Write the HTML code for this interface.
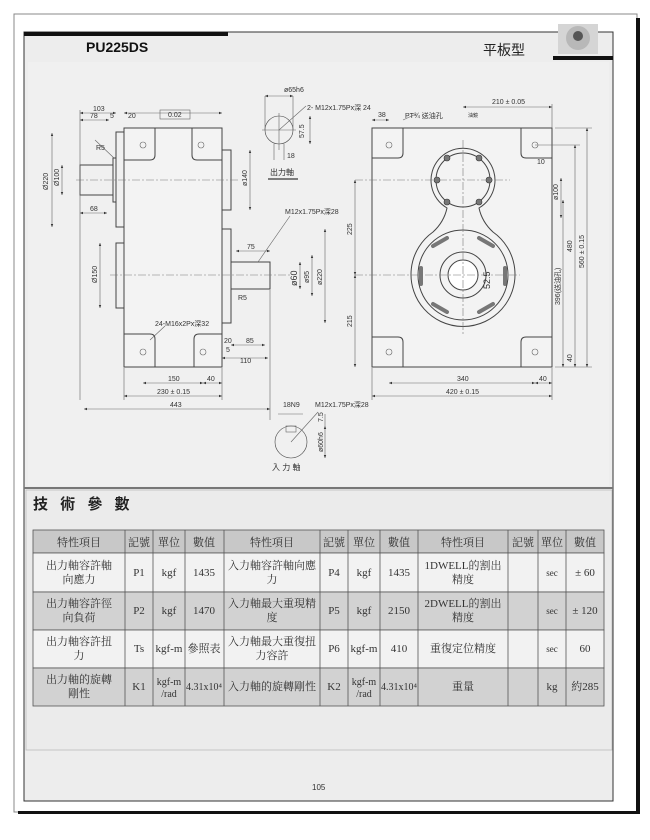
<!DOCTYPE html>
<html><head><meta charset="utf-8"><style>
html,body{margin:0;padding:0;background:#fff;}
svg{display:block;font-family:"Liberation Sans","Noto Sans CJK TC",sans-serif;}
.l{stroke:#444;stroke-width:1;fill:none}
.t{stroke:#666;stroke-width:.6;fill:none}
.c{stroke:#777;stroke-width:.6;fill:none;stroke-dasharray:8 2 2 2}
.s{font-size:7px;fill:#333}
.tb{font-family:"Liberation Serif","Noto Serif CJK SC",serif;font-size:11px;fill:#333;text-anchor:middle}
</style></head><body>
<svg width="650" height="840" viewBox="0 0 650 840" xmlns="http://www.w3.org/2000/svg">
<defs><marker id="a" markerWidth="6" markerHeight="6" refX="5" refY="3" orient="auto-start-reverse"><path d="M0,1 L5,3 L0,5z" fill="#333"/></marker></defs>
<!-- outer frame -->
<rect x="14" y="14" width="623" height="798" fill="#fff" stroke="#888" stroke-width="1"/>
<rect x="18" y="811" width="622" height="3" fill="#111"/>
<rect x="636" y="18" width="4" height="796" fill="#111"/>
<rect x="24" y="32" width="589" height="769" fill="#ededed" stroke="#333" stroke-width="1"/>
<rect x="24" y="32" width="204" height="4" fill="#111"/>
<rect x="553" y="56" width="60" height="4" fill="#111"/>
<rect x="558" y="24" width="40" height="30" fill="#d5d5d5"/>
<circle cx="578" cy="38" r="12" fill="#b8b8b8"/><circle cx="578" cy="36" r="5" fill="#555"/>
<text x="86" y="52" font-size="14" font-weight="bold" fill="#111">PU225DS</text>
<text x="483" y="55" font-size="14" fill="#222">平板型</text>
<rect x="28" y="62" width="581" height="424" fill="#f0f0f0"/>

<!-- LEFT VIEW -->
<g class="l">
<rect x="124" y="128" width="98" height="239" fill="#f3f3f3"/>
<path d="M124,160 H150 Q155,160 155,155 V128"/><path d="M222,160 H197 Q192,160 192,155 V128"/>
<path d="M124,334 H150 Q155,334 155,339 V367"/><path d="M222,334 H199 Q194,334 194,339 V367"/>
<rect x="116" y="132" width="8" height="95"/>
<rect x="113" y="158" width="3" height="44"/>
<rect x="80" y="165" width="33" height="30"/>
<rect x="116" y="243" width="8" height="65"/>
<rect x="222" y="150" width="9" height="60"/>
<rect x="222" y="229" width="9" height="94"/>
<rect x="231" y="262" width="39" height="27"/>
</g>
<g class="t"><circle cx="143" cy="145" r="3"/><circle cx="201" cy="145" r="3"/><circle cx="143" cy="352" r="3"/><circle cx="203" cy="352" r="3"/></g>
<line class="c" x1="76" y1="180" x2="240" y2="180"/><line class="c" x1="110" y1="275" x2="290" y2="275"/>
<g class="t" marker-start="url(#a)" marker-end="url(#a)">
<line x1="80" y1="113" x2="116" y2="113"/><line x1="80" y1="120" x2="109" y2="120"/><line x1="124" y1="113" x2="222" y2="113"/>
<line x1="52" y1="133" x2="52" y2="227"/><line x1="62" y1="165" x2="62" y2="195"/>
<line x1="80" y1="213" x2="107" y2="213"/><line x1="250" y1="150" x2="250" y2="210"/>
<line x1="100" y1="243" x2="100" y2="308"/><line x1="236" y1="251" x2="270" y2="251"/>
<line x1="300" y1="262" x2="300" y2="289"/><line x1="312" y1="255" x2="312" y2="296"/><line x1="325" y1="229" x2="325" y2="323"/>
<line x1="231" y1="345" x2="265" y2="345"/><line x1="222" y1="358" x2="268" y2="358"/>
<line x1="143" y1="383" x2="203" y2="383"/><line x1="203" y1="383" x2="222" y2="383"/>
<line x1="124" y1="396" x2="222" y2="396"/><line x1="84" y1="409" x2="270" y2="409"/>
</g>
<g class="t"><line x1="80" y1="110" x2="80" y2="400"/><line x1="270" y1="290" x2="270" y2="420"/><line x1="222" y1="368" x2="222" y2="400"/><line x1="124" y1="368" x2="124" y2="400"/><line x1="258" y1="262" x2="290" y2="216"/><line x1="150" y1="340" x2="165" y2="326"/><line x1="95" y1="140" x2="114" y2="158"/></g>
<rect x="160" y="110" width="30" height="9" fill="none" stroke="#666" stroke-width=".6"/>
<g class="s">
<text x="93" y="111">103</text><text x="90" y="118">78</text><text x="110" y="118">5</text><text x="128" y="118">20</text><text x="168" y="117">0.02</text>
<text x="48" y="190" transform="rotate(-90 48 190)">Ø220</text><text x="59" y="186" transform="rotate(-90 59 186)">Ø100</text>
<text x="90" y="211">68</text><text x="96" y="150">R5</text><text x="247" y="186" transform="rotate(-90 247 186)">ø140</text>
<text x="97" y="283" transform="rotate(-90 97 283)">Ø150</text><text x="247" y="249">75</text>
<text x="285" y="214">M12x1.75Px深28</text>
<text x="297" y="286" transform="rotate(-90 297 286)" font-size="9">ø60</text><text x="309" y="283" transform="rotate(-90 309 283)">ø95</text><text x="322" y="285" transform="rotate(-90 322 285)">ø220</text>
<text x="238" y="300">R5</text><text x="155" y="326">24-M16x2Px深32</text>
<text x="224" y="343">20</text><text x="246" y="343">85</text><text x="226" y="352">5</text><text x="240" y="363">110</text>
<text x="168" y="381">150</text><text x="207" y="381">40</text><text x="157" y="394">230 ± 0.15</text><text x="170" y="407">443</text>
</g>
<!-- output shaft detail -->
<g class="t">
<circle cx="279" cy="130" r="14" stroke="#444"/><line x1="262" y1="130" x2="296" y2="130"/><line x1="279" y1="113" x2="279" y2="150"/>
<line x1="265" y1="96" x2="293" y2="96" marker-start="url(#a)" marker-end="url(#a)"/><line x1="265" y1="96" x2="265" y2="130"/><line x1="293" y1="96" x2="293" y2="130"/>
<line x1="279" y1="130" x2="306" y2="106"/><line x1="310" y1="116" x2="310" y2="144" marker-start="url(#a)" marker-end="url(#a)"/>
<line x1="274" y1="144" x2="274" y2="160"/><line x1="284" y1="144" x2="284" y2="160"/>
</g>
<text class="s" x="284" y="92">ø65h6</text><text class="s" x="307" y="110">2- M12x1.75Px深 24</text>
<text class="s" x="304" y="138" transform="rotate(-90 304 138)">57.5</text><text class="s" x="287" y="158">18</text>
<text x="270" y="175" font-size="8" fill="#333">出力軸</text><line x1="268" y1="179" x2="298" y2="179" stroke="#555" stroke-width="1.5"/>
<!-- input shaft detail -->
<g class="t">
<circle cx="291" cy="442" r="16" stroke="#444"/><rect x="286" y="426" width="10" height="6"/><line x1="291" y1="442" x2="318" y2="412"/>
<line x1="278" y1="414" x2="303" y2="414"/><line x1="325" y1="426" x2="325" y2="458" marker-start="url(#a)" marker-end="url(#a)"/><line x1="325" y1="414" x2="325" y2="426"/>
</g>
<text class="s" x="283" y="407">18N9</text><text class="s" x="315" y="407">M12x1.75Px深28</text>
<text class="s" x="323" y="422" transform="rotate(-90 323 422)">7.5</text><text class="s" x="323" y="452" transform="rotate(-90 323 452)">ø60h6</text>
<text x="272" y="470" font-size="8" fill="#333">入 力 軸</text>

<!-- RIGHT VIEW -->
<g class="l">
<rect x="372" y="128" width="180" height="239" fill="#f3f3f3"/>
<path d="M372,158 H398 Q403,158 403,153 V128"/><path d="M552,158 H526 Q521,158 521,153 V128"/>
<path d="M372,337 H398 Q403,337 403,342 V367"/><path d="M552,337 H526 Q521,337 521,342 V367"/>
<path d="M447,208 A32,32 0 1 1 479,208 Q482,222 493,232 A52,52 0 1 1 433,232 Q444,222 447,208 Z"/>
<circle cx="463" cy="275" r="45"/><circle cx="463" cy="275" r="23"/><circle cx="463" cy="275" r="15" fill="#fff"/>
<circle cx="463" cy="180" r="27"/>
</g>
<g fill="#777" stroke="#333" stroke-width=".6">
<circle cx="447" cy="158" r="3"/><circle cx="479" cy="158" r="3"/><circle cx="437" cy="180" r="3"/><circle cx="489" cy="180" r="3"/><circle cx="447" cy="202" r="3"/><circle cx="479" cy="202" r="3"/>
</g>
<g fill="none" stroke="#444" stroke-width="4" stroke-linecap="round" opacity=".7">
<path d="M433,246 L447,238"/><path d="M479,238 L493,246"/><path d="M421,268 L421,284"/><path d="M505,268 L505,284"/><path d="M433,304 L447,312"/><path d="M479,312 L493,304"/>
</g>
<g class="t"><circle cx="389" cy="145" r="3"/><circle cx="535" cy="145" r="3"/><circle cx="389" cy="352" r="3"/><circle cx="535" cy="352" r="3"/></g>
<line class="c" x1="355" y1="180" x2="510" y2="180"/><line class="c" x1="355" y1="275" x2="520" y2="275"/><line class="c" x1="463" y1="140" x2="463" y2="335"/>
<g class="t" marker-start="url(#a)" marker-end="url(#a)">
<line x1="463" y1="107" x2="552" y2="107"/><line x1="372" y1="120" x2="389" y2="120"/>
<line x1="355" y1="180" x2="355" y2="275"/><line x1="355" y1="275" x2="355" y2="367"/>
<line x1="563" y1="200" x2="563" y2="367"/><line x1="575" y1="145" x2="575" y2="367"/><line x1="587" y1="128" x2="587" y2="367"/>
<line x1="561" y1="178" x2="561" y2="218"/>
<line x1="389" y1="383" x2="535" y2="383"/><line x1="535" y1="383" x2="552" y2="383"/><line x1="372" y1="396" x2="552" y2="396"/>
</g>
<g class="t"><line x1="372" y1="368" x2="372" y2="400"/><line x1="552" y1="368" x2="552" y2="400"/><line x1="552" y1="104" x2="552" y2="128"/><line x1="555" y1="128" x2="592" y2="128"/><line x1="535" y1="145" x2="580" y2="145"/><line x1="555" y1="367" x2="592" y2="367"/><line x1="403" y1="120" x2="416" y2="114"/></g>
<g class="s">
<text x="492" y="104">210 ± 0.05</text><text x="378" y="117">38</text><text x="405" y="118">PT¾ 送油孔</text><text x="468" y="117" font-size="5">油鏡</text>
<text x="352" y="235" transform="rotate(-90 352 235)">225</text><text x="352" y="327" transform="rotate(-90 352 327)">215</text>
<text x="537" y="164">10</text><text x="558" y="200" transform="rotate(-90 558 200)">ø100</text>
<text x="572" y="252" transform="rotate(-90 572 252)">480</text><text x="584" y="268" transform="rotate(-90 584 268)">560 ± 0.15</text>
<text x="560" y="305" transform="rotate(-90 560 305)">396(送油孔)</text><text x="572" y="362" transform="rotate(-90 572 362)">40</text>
<text x="490" y="289" transform="rotate(-90 490 289)" font-size="9">52.5</text>
<text x="457" y="381">340</text><text x="539" y="381">40</text><text x="446" y="394">420 ± 0.15</text>
</g>

<!-- TABLE SECTION -->
<rect x="24" y="487" width="589" height="2" fill="#777"/>
<rect x="26" y="490" width="586" height="260" fill="#ebebeb" stroke="#bbb" stroke-width=".8"/>
<text x="33" y="509" font-size="15" font-weight="bold" fill="#222" letter-spacing="4">技 術 參 數</text>
<g stroke="#555" stroke-width=".8">
<rect x="33" y="530" width="571" height="23" fill="#c8c8c8"/>
<rect x="33" y="553" width="571" height="39" fill="#f2f2f2"/>
<rect x="33" y="592" width="571" height="38" fill="#d2d2d2"/>
<rect x="33" y="630" width="571" height="38" fill="#f2f2f2"/>
<rect x="33" y="668" width="571" height="38" fill="#d2d2d2"/>
<path d="M125,530V706M153,530V706M185,530V706M224,530V706M320,530V706M348,530V706M380,530V706M418,530V706M508,530V706M538,530V706M566,530V706"/>
</g>
<g class="tb">
<text x="79" y="546">特性項目</text><text x="139" y="546">記號</text><text x="169" y="546">單位</text><text x="204" y="546">數值</text>
<text x="272" y="546">特性項目</text><text x="334" y="546">記號</text><text x="364" y="546">單位</text><text x="399" y="546">數值</text>
<text x="463" y="546">特性項目</text><text x="523" y="546">記號</text><text x="552" y="546">單位</text><text x="585" y="546">數值</text>
<text x="79" y="569">出力軸容許軸</text><text x="79" y="583">向應力</text><text x="139" y="576">P1</text><text x="169" y="576">kgf</text><text x="204" y="576">1435</text>
<text x="272" y="569">入力軸容許軸向應</text><text x="272" y="583">力</text><text x="334" y="576">P4</text><text x="364" y="576">kgf</text><text x="399" y="576">1435</text>
<text x="463" y="569">1DWELL的割出</text><text x="463" y="583">精度</text><text x="552" y="576" font-size="9">sec</text><text x="585" y="576">± 60</text>
<text x="79" y="607">出力軸容許徑</text><text x="79" y="621">向負荷</text><text x="139" y="614">P2</text><text x="169" y="614">kgf</text><text x="204" y="614">1470</text>
<text x="272" y="607">入力軸最大重現精</text><text x="272" y="621">度</text><text x="334" y="614">P5</text><text x="364" y="614">kgf</text><text x="399" y="614">2150</text>
<text x="463" y="607">2DWELL的割出</text><text x="463" y="621">精度</text><text x="552" y="614" font-size="9">sec</text><text x="585" y="614">± 120</text>
<text x="79" y="645">出力軸容許扭</text><text x="79" y="659">力</text><text x="139" y="652">Ts</text><text x="169" y="652">kgf-m</text><text x="204" y="652">參照表</text>
<text x="272" y="645">入力軸最大重復扭</text><text x="272" y="659">力容許</text><text x="334" y="652">P6</text><text x="364" y="652">kgf-m</text><text x="399" y="652">410</text>
<text x="463" y="652">重復定位精度</text><text x="552" y="652" font-size="9">sec</text><text x="585" y="652">60</text>
<text x="79" y="683">出力軸的旋轉</text><text x="79" y="697">剛性</text><text x="139" y="690">K1</text><text x="169" y="685" font-size="10">kgf-m</text><text x="169" y="697" font-size="10">/rad</text><text x="204" y="690" font-size="10">4.31x10⁴</text>
<text x="272" y="690">入力軸的旋轉剛性</text><text x="334" y="690">K2</text><text x="364" y="685" font-size="10">kgf-m</text><text x="364" y="697" font-size="10">/rad</text><text x="399" y="690" font-size="10">4.31x10⁴</text>
<text x="463" y="690">重量</text><text x="552" y="690">kg</text><text x="585" y="690">約285</text>
</g>
<text x="312" y="790" font-size="8" fill="#333">105</text>
</svg>
</body></html>
